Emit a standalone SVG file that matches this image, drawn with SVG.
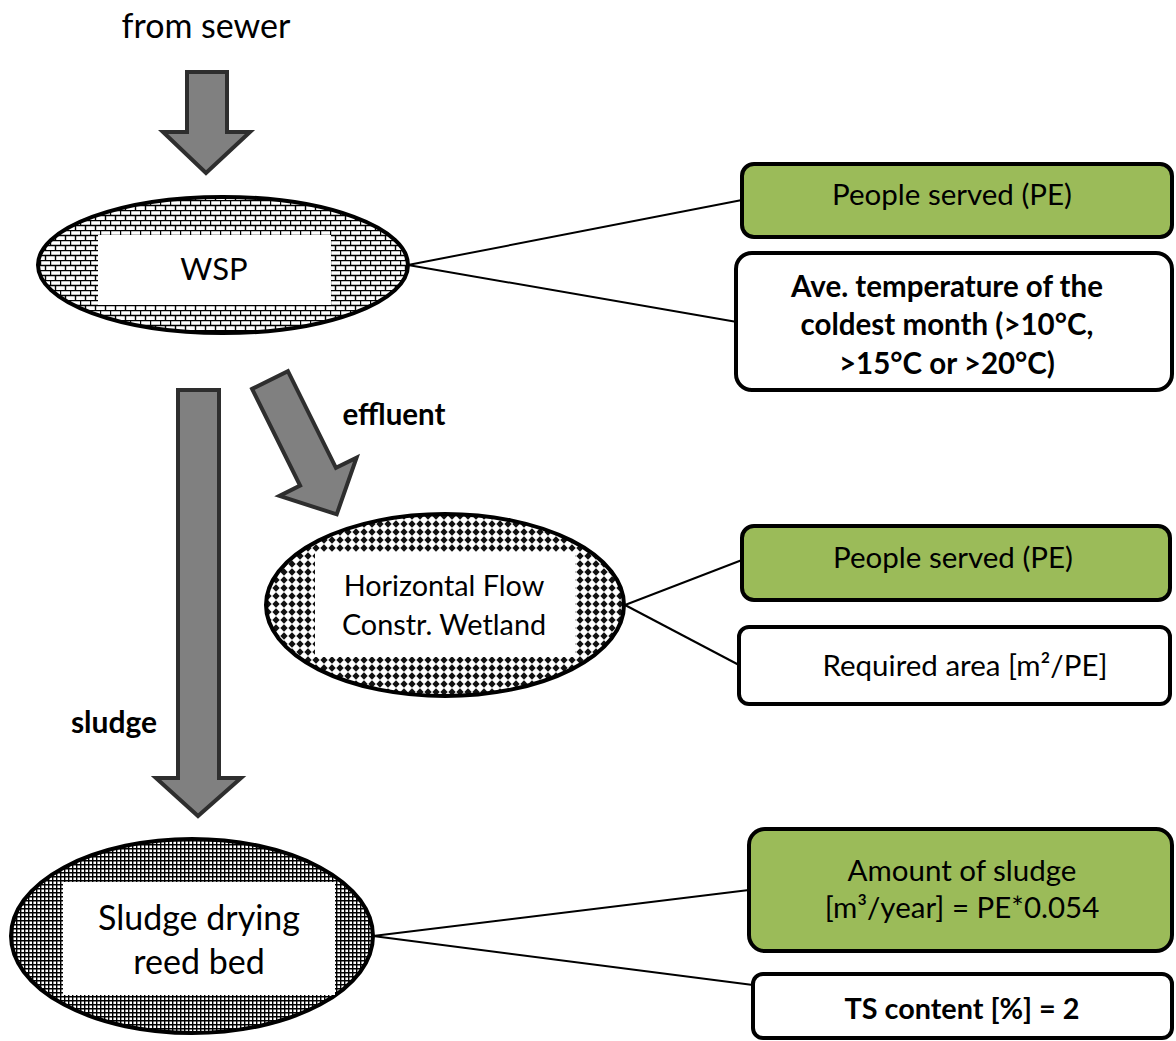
<svg xmlns="http://www.w3.org/2000/svg" width="1176" height="1041" viewBox="0 0 1176 1041">
<style>
text{font-family:Lato,"Liberation Sans",sans-serif;fill:#000;font-size:29.5px;text-anchor:middle}
.b{font-weight:bold}
.arrow{fill:#808080;stroke:#2e2e2e;stroke-width:4;stroke-linejoin:miter}
.ell{stroke:#000;stroke-width:4}
.inner{fill:#fff;stroke:none}
.green{fill:#9BBB59;stroke:#000;stroke-width:4}
.white{fill:#fff;stroke:#000;stroke-width:4}
.conn line{stroke:#000;stroke-width:2}
</style>
<defs>
<pattern id="brick" width="10" height="10" patternUnits="userSpaceOnUse">
<rect width="10" height="10" fill="#fff"/>
<path d="M0 0.5H10M0 5.5H10M0.5 0.5V5.5M5.5 5.5V10" stroke="#000" stroke-width="1.4" fill="none"/>
</pattern>
<pattern id="diamond" width="8" height="8" patternUnits="userSpaceOnUse">
<rect width="8" height="8" fill="#fff"/>
<polygon points="4,0.3 7.7,4 4,7.7 0.3,4" fill="#111"/>
</pattern>
<pattern id="grid" width="4" height="4" patternUnits="userSpaceOnUse">
<rect width="4" height="4" fill="#fff"/>
<path d="M0 0.7H4M0.7 0V4" stroke="#000" stroke-width="1.4" fill="none"/>
</pattern>
</defs>

<g id="label-from-sewer"><text x="206" y="38" style="font-size:34px">from sewer</text></g>
<g id="label-effluent"><text class="b" x="394" y="425">effluent</text></g>
<g id="label-sludge"><text class="b" x="114" y="733" style="font-size:30px">sludge</text></g>

<g id="arrows">
<path class="arrow" d="M187 72H227V132H250L206 173L163 132H187Z"/>
<path class="arrow" d="M-20 0H20V108H43L0 150L-43 108H-20Z" transform="translate(270,380) rotate(-26.4)"/>
<path class="arrow" d="M178 390H219V778H241L198 816L156 778H178Z"/>
</g>

<g class="conn" id="connectors">
<line x1="408" y1="265" x2="742" y2="200"/>
<line x1="408" y1="265" x2="737" y2="322"/>
<line x1="625" y1="605" x2="742" y2="560"/>
<line x1="625" y1="605" x2="739" y2="665"/>
<line x1="373" y1="936" x2="749" y2="890"/>
<line x1="373" y1="936" x2="753" y2="985"/>
</g>

<g id="wsp">
<ellipse class="ell" cx="223" cy="265" rx="185" ry="68" fill="url(#brick)"/>
<rect class="inner" x="98" y="235" width="233" height="70"/>
<text x="214" y="280" style="font-size:31px">WSP</text>
</g>

<g id="wetland">
<ellipse class="ell" cx="445" cy="605" rx="179" ry="91" fill="url(#diamond)"/>
<rect class="inner" x="315" y="552" width="260" height="105"/>
<text x="444" y="596" style="font-size:28.8px">Horizontal Flow</text>
<text x="444" y="635" style="font-size:28.8px">Constr. Wetland</text>
</g>

<g id="sludge-bed">
<ellipse class="ell" cx="192" cy="936" rx="181" ry="97" fill="url(#grid)"/>
<rect class="inner" x="63" y="882" width="272" height="113"/>
<text x="199" y="930" style="font-size:34px">Sludge drying</text>
<text x="199" y="974" style="font-size:34px">reed bed</text>
</g>

<g id="box-wsp-pe">
<rect class="green" x="742" y="164" width="430" height="73" rx="12"/>
<text x="952" y="205">People served (PE)</text>
</g>

<g id="box-wsp-temp">
<rect class="white" x="736" y="253" width="436" height="137" rx="16"/>
<text class="b" x="947" y="297">Ave. temperature of the</text>
<text class="b" x="947" y="335">coldest month (&gt;10°C,</text>
<text class="b" x="947" y="374">&gt;15°C or &gt;20°C)</text>
</g>

<g id="box-hf-pe">
<rect class="green" x="742" y="526" width="428" height="74" rx="12"/>
<text x="953" y="568">People served (PE)</text>
</g>

<g id="box-hf-area">
<rect class="white" x="739" y="627" width="431" height="77" rx="10"/>
<text x="965" y="676">Required area [m²/PE]</text>
</g>

<g id="box-sludge-amount">
<rect class="green" x="749" y="829" width="423" height="122" rx="16"/>
<text x="962" y="881">Amount of sludge</text>
<text x="962" y="918">[m³/year] = PE*0.054</text>
</g>

<g id="box-sludge-ts">
<rect class="white" x="753" y="974" width="419" height="64" rx="10"/>
<text class="b" x="962" y="1019" style="font-size:28.8px">TS content [%] = 2</text>
</g>
</svg>
